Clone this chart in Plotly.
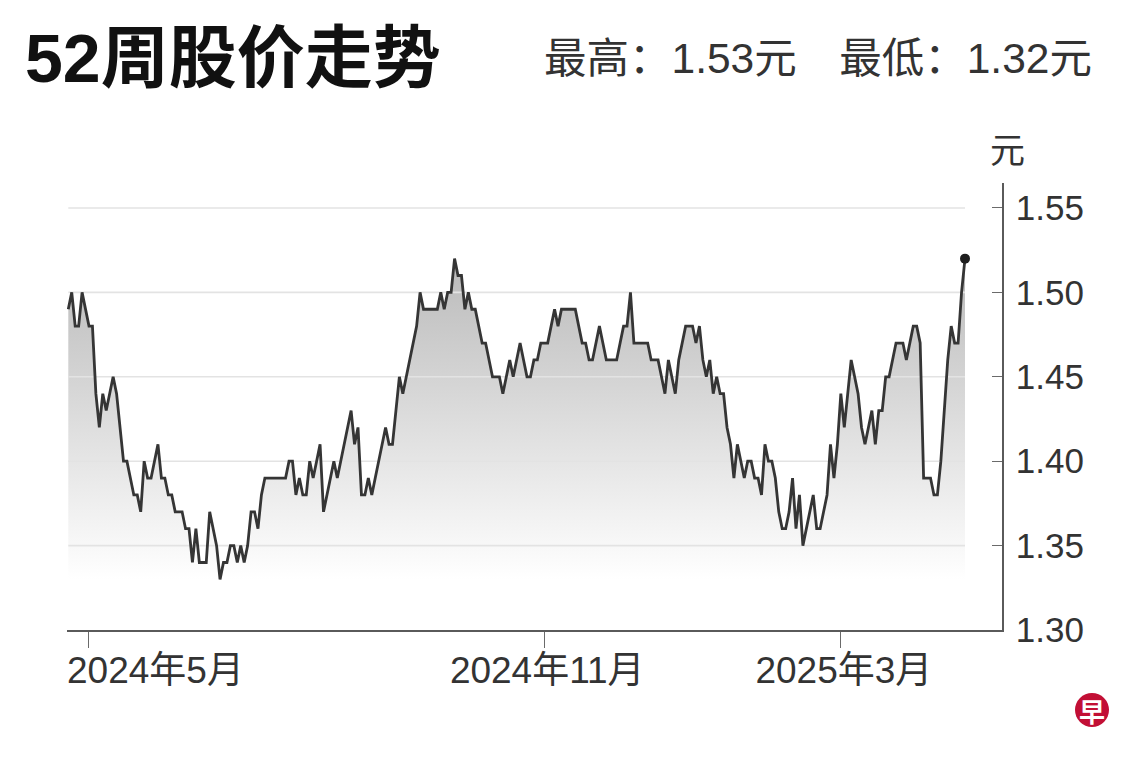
import pandas as pd
import plotly.graph_objects as go

# ---------------- data ----------------
start_date = "2024-04-23"          # first trading day shown (weekdays only)
prices = [
    1.49, 1.50, 1.48, 1.48, 1.50, 1.49, 1.48, 1.48, 1.44, 1.42,
    1.44, 1.43, 1.44, 1.45, 1.44, 1.42, 1.40, 1.40, 1.39, 1.38,
    1.38, 1.37, 1.40, 1.39, 1.39, 1.40, 1.41, 1.39, 1.39, 1.38,
    1.38, 1.37, 1.37, 1.37, 1.36, 1.36, 1.34, 1.36, 1.34, 1.34,
    1.34, 1.37, 1.36, 1.35, 1.33, 1.34, 1.34, 1.35, 1.35, 1.34,
    1.35, 1.34, 1.35, 1.37, 1.37, 1.36, 1.38, 1.39, 1.39, 1.39,
    1.39, 1.39, 1.39, 1.39, 1.40, 1.40, 1.38, 1.39, 1.38, 1.38,
    1.40, 1.39, 1.40, 1.41, 1.37, 1.38, 1.39, 1.40, 1.39, 1.40,
    1.41, 1.42, 1.43, 1.41, 1.42, 1.38, 1.38, 1.39, 1.38, 1.39,
    1.40, 1.41, 1.42, 1.41, 1.41, 1.43, 1.45, 1.44, 1.45, 1.46,
    1.47, 1.48, 1.50, 1.49, 1.49, 1.49, 1.49, 1.49, 1.50, 1.49,
    1.50, 1.50, 1.52, 1.51, 1.51, 1.49, 1.50, 1.49, 1.49, 1.48,
    1.47, 1.47, 1.46, 1.45, 1.45, 1.45, 1.44, 1.45, 1.46, 1.45,
    1.46, 1.47, 1.46, 1.45, 1.45, 1.46, 1.46, 1.47, 1.47, 1.47,
    1.48, 1.49, 1.48, 1.49, 1.49, 1.49, 1.49, 1.49, 1.48, 1.47,
    1.47, 1.46, 1.46, 1.47, 1.48, 1.47, 1.46, 1.46, 1.46, 1.46,
    1.47, 1.48, 1.48, 1.50, 1.47, 1.47, 1.47, 1.47, 1.47, 1.46,
    1.46, 1.46, 1.45, 1.44, 1.46, 1.45, 1.44, 1.46, 1.47, 1.48,
    1.48, 1.48, 1.47, 1.48, 1.46, 1.45, 1.46, 1.44, 1.45, 1.44,
    1.44, 1.42, 1.41, 1.39, 1.41, 1.40, 1.39, 1.40, 1.40, 1.39,
    1.39, 1.38, 1.41, 1.40, 1.40, 1.39, 1.37, 1.36, 1.36, 1.37,
    1.39, 1.36, 1.38, 1.35, 1.36, 1.37, 1.38, 1.36, 1.36, 1.37,
    1.38, 1.41, 1.39, 1.41, 1.44, 1.42, 1.44, 1.46, 1.45, 1.44,
    1.42, 1.41, 1.42, 1.43, 1.41, 1.43, 1.43, 1.45, 1.45, 1.46,
    1.47, 1.47, 1.47, 1.46, 1.47, 1.48, 1.48, 1.47, 1.39, 1.39,
    1.39, 1.38, 1.38, 1.40, 1.43, 1.46, 1.48, 1.47, 1.47, 1.50, 1.52,
]
dates = pd.bdate_range(start_date, periods=len(prices)).strftime("%Y-%m-%d").tolist()

y_ticks = [1.30, 1.35, 1.40, 1.45, 1.50, 1.55]
y_tick_text = [f"{v:.2f}" for v in y_ticks]
x_ticks = ["2024-05-01", "2024-11-01", "2025-03-03"]
x_tick_text = ["2024年5月", "2024年11月", "2025年3月"]

title_text = "52周股价走势"
high_low_text = "最高：1.53元\u3000最低：1.32元"
unit_text = "元"
logo_text = "早"

FONT = "Liberation Sans, Arial, Noto Sans CJK SC, sans-serif"
W, H = 1140, 760
L, R, T, B = 67, 138, 183, 130
PW, PH = W - L - R, H - T - B


def px_x(px):
    return (px - L) / PW


def px_y(py):
    return (H - B - py) / PH


fig = go.Figure()

# gradient area under the line
fig.add_trace(go.Scatter(
    x=dates, y=prices, mode="lines",
    line=dict(width=0, color="rgba(0,0,0,0)"),
    fill="tozeroy",
    fillgradient=dict(type="vertical", start=1.33, stop=1.52,
                      colorscale=[[0, "rgb(255,255,255)"], [1, "rgb(186,186,186)"]]),
    hoverinfo="skip", showlegend=False,
))

# horizontal grid lines spanning the data range (above the fill, below the line)
gx, gy = [], []
for v in y_ticks[1:]:
    gx += [dates[0], dates[-1], None]
    gy += [v, v, None]
fig.add_trace(go.Scatter(
    x=gx, y=gy, mode="lines", line=dict(color="#e3e3e3", width=1.6),
    hoverinfo="skip", showlegend=False, connectgaps=False,
))

# price line
fig.add_trace(go.Scatter(
    x=dates, y=prices, mode="lines",
    line=dict(color="#353535", width=2.8),
    showlegend=False,
))

# last point marker
fig.add_trace(go.Scatter(
    x=[dates[-1]], y=[prices[-1]], mode="markers",
    marker=dict(size=10, color="#1e1e1e"),
    showlegend=False, cliponaxis=False,
))

fig.update_layout(
    width=W, height=H,
    margin=dict(l=L, r=R, t=T, b=B),
    paper_bgcolor="white", plot_bgcolor="white",
    showlegend=False,
    font=dict(family=FONT, color="#333333"),
    title=dict(
        text=f"<b>{title_text}</b>", xref="container", yref="container",
        x=25 / W, xanchor="left", y=1 - 58 / H, yanchor="middle",
        font=dict(size=68, color="#111111", family=FONT),
    ),
    xaxis=dict(
        type="date",
        range=["2024-04-22 15:00", "2025-05-06 17:30"],
        rangebreaks=[dict(bounds=["sat", "mon"])],
        showgrid=False, zeroline=False,
        showline=True, linecolor="#5a5a5a", linewidth=1.5,
        ticks="outside", ticklen=16, tickwidth=1.3, tickcolor="#6a6a6a",
        tickmode="array", tickvals=x_ticks, ticktext=[""] + x_tick_text[1:],
        tickfont=dict(size=37, color="#333333", family=FONT),
        ticklabelstandoff=-9,
        ticklabelshift=3,
        fixedrange=True,
    ),
    yaxis=dict(
        side="right", anchor="x",
        range=[1.30, 1.5648],
        showgrid=False, zeroline=False,
        showline=True, linecolor="#5a5a5a", linewidth=1.5,
        ticks="inside", ticklen=10, tickwidth=1.3, tickcolor="#6a6a6a",
        tickmode="array", tickvals=y_ticks, ticktext=y_tick_text,
        tickfont=dict(size=35, color="#333333", family=FONT),
        ticklabelstandoff=5,
        fixedrange=True,
    ),
)

annotations = [
    # first x tick label, kept inside the chart on the left
    dict(text=x_tick_text[0], xref="paper", yref="paper", x=0, xanchor="left",
         y=0, yanchor="top", xshift=-2, yshift=-18, showarrow=False,
         font=dict(size=37, color="#333333", family=FONT)),
    # high / low summary
    dict(text=high_low_text, xref="paper", yref="paper", x=px_x(1094), xanchor="right",
         y=px_y(58), yanchor="middle", showarrow=False,
         font=dict(size=42.5, color="#333333", family=FONT)),
    # unit label
    dict(text=unit_text, xref="paper", yref="paper", x=px_x(1008), xanchor="center",
         y=px_y(150), yanchor="middle", showarrow=False,
         font=dict(size=35, color="#333333", family=FONT)),
    # logo glyph
    dict(text=f"<b>{logo_text}</b>", xref="paper", yref="paper", x=px_x(1092), xanchor="center",
         y=px_y(710), yanchor="middle", showarrow=False,
         font=dict(size=26, color="white", family="Noto Sans CJK SC")),
]
fig.update_layout(annotations=annotations)

fig.add_shape(
    type="circle", xref="paper", yref="paper",
    xsizemode="pixel", ysizemode="pixel",
    xanchor=px_x(1092), yanchor=px_y(710),
    x0=-17, x1=17, y0=-17, y1=17,
    fillcolor="#c20f35", line=dict(width=0), layer="below",
)

fig.write_html(
    "out.html",
    config={"displayModeBar": False},
    post_script="document.body.style.margin='0';document.body.style.overflow='hidden';",
)
